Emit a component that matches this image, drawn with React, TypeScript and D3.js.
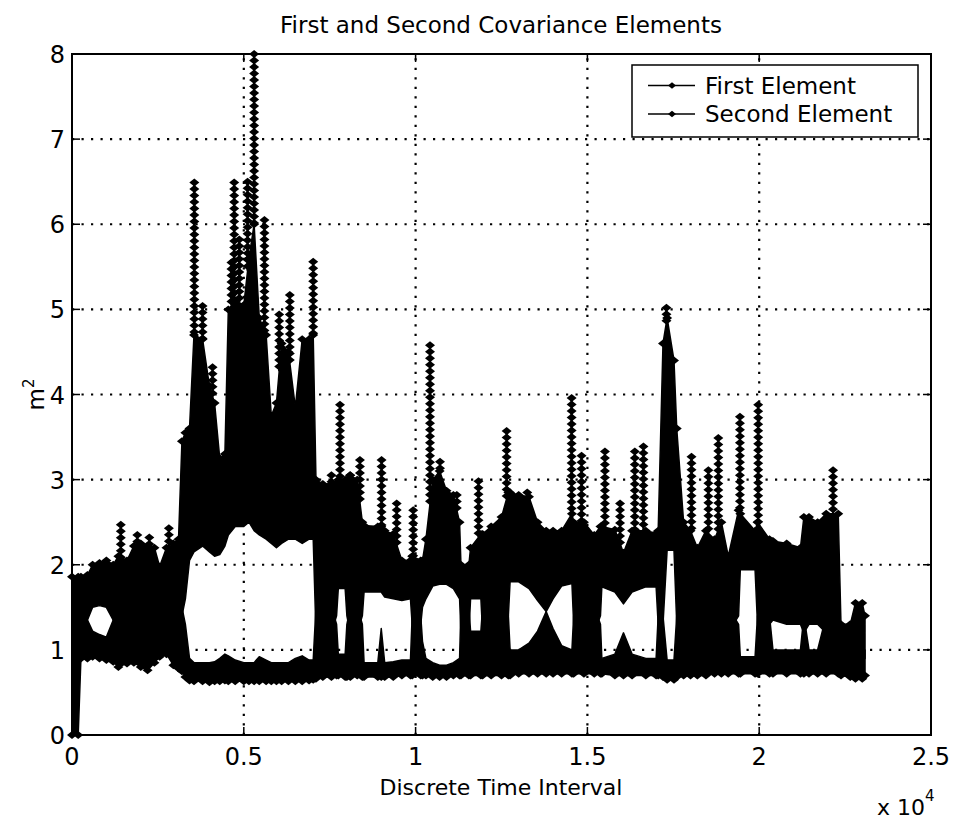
import React from 'react';
import * as d3 from 'd3';

// ---- data ----
const timeGrid = [0, 180, 260, 450, 600, 800, 1000, 1200, 1350, 1600, 1800, 2000, 2200, 2400, 2550, 2750, 2950, 3100, 3200, 3300, 3420, 3550, 3800, 4000, 4150, 4300, 4450, 4550, 4750, 5000, 5150, 5300, 5450, 5650, 5800, 5950, 6100, 6300, 6500, 6700, 6900, 7020, 7100, 7300, 7550, 7700, 7750, 7950, 8000, 8100, 8300, 8450, 8500, 8900, 9000, 9100, 9350, 9600, 9850, 9900, 10150, 10200, 10300, 10500, 10700, 10900, 11100, 11280, 11320, 11550, 11600, 11900, 11950, 12200, 12500, 12700, 12750, 13000, 13300, 13550, 13800, 14000, 14250, 14550, 14600, 14900, 15200, 15380, 15420, 15800, 16050, 16300, 16700, 17000, 17060, 17200, 17320, 17520, 17600, 17800, 18000, 18200, 18450, 18700, 18900, 19100, 19400, 19450, 19880, 19950, 20300, 20400, 20800, 21200, 21300, 21450, 21700, 21950, 22300, 22380, 22650, 22800, 23000, 23080];

const firstUpper = [1.86, 1.86, 1.86, 1.88, 2.0, 2.02, 2.05, 2.0, 2.1, 2.05, 2.22, 2.25, 2.22, 2.2, 1.98, 2.2, 2.25, 2.3, 3.45, 3.55, 3.6, 4.7, 4.65, 4.1, 3.9, 3.25, 3.3, 5.0, 5.1, 5.05, 5.6, 6.0, 4.9, 4.7, 3.75, 3.9, 4.6, 4.5, 3.85, 4.65, 4.65, 4.7, 3.0, 2.95, 2.95, 2.95, 3.0, 3.0, 3.0, 3.05, 3.0, 2.5, 2.46, 2.45, 2.45, 2.4, 2.36, 2.05, 2.05, 2.1, 2.05, 2.05, 2.3, 3.0, 3.1, 2.87, 2.82, 2.5, 2.0, 2.0, 2.2, 2.36, 2.36, 2.45, 2.56, 2.85, 2.85, 2.82, 2.8, 2.5, 2.4, 2.4, 2.4, 2.6, 2.5, 2.5, 2.35, 2.45, 2.45, 2.41, 2.14, 2.4, 2.4, 2.37, 2.4, 4.6, 4.9, 4.4, 3.6, 2.5, 2.4, 2.2, 2.4, 2.3, 2.5, 2.1, 2.64, 2.6, 2.4, 2.5, 2.3, 2.28, 2.25, 2.2, 2.56, 2.56, 2.5, 2.6, 2.6, 1.3, 1.3, 1.55, 1.55, 1.4];

const firstLower = [1.2, 1.2, 1.2, 1.35, 1.5, 1.52, 1.5, 1.35, 1.2, 1.2, 1.2, 1.2, 1.2, 1.2, 1.2, 1.2, 1.2, 1.2, 1.4, 1.6, 2.05, 2.15, 2.22, 2.15, 2.1, 2.12, 2.22, 2.35, 2.45, 2.45, 2.5, 2.4, 2.35, 2.3, 2.25, 2.2, 2.25, 2.3, 2.3, 2.25, 2.3, 2.3, 1.2, 1.2, 1.2, 1.4, 1.72, 1.72, 1.4, 1.2, 1.2, 1.4, 1.68, 1.68, 1.68, 1.62, 1.6, 1.58, 1.6, 1.3, 1.3, 1.5, 1.6, 1.75, 1.77, 1.77, 1.72, 1.6, 1.2, 1.2, 1.6, 1.6, 1.2, 1.2, 1.2, 1.4, 1.8, 1.8, 1.72, 1.58, 1.45, 1.6, 1.75, 1.78, 1.3, 1.2, 1.2, 1.4, 1.74, 1.68, 1.54, 1.68, 1.74, 1.74, 1.3, 1.3, 2.17, 2.17, 1.3, 1.2, 1.2, 1.2, 1.2, 1.2, 1.2, 1.2, 1.4, 1.94, 1.94, 1.3, 1.3, 1.35, 1.3, 1.3, 1.2, 1.3, 1.3, 1.2, 1.2, 0.9, 0.9, 0.9, 0.9, 0.9];

const secondUpper = [1.5, 1.5, 1.5, 1.35, 1.22, 1.18, 1.15, 1.35, 1.5, 1.5, 1.5, 1.5, 1.5, 1.5, 1.5, 1.5, 1.5, 1.5, 1.5, 1.3, 0.9, 0.85, 0.85, 0.85, 0.86, 0.9, 0.95, 0.93, 0.88, 0.85, 0.85, 0.85, 0.92, 0.88, 0.85, 0.85, 0.85, 0.85, 0.9, 0.93, 0.88, 0.88, 1.5, 1.5, 1.5, 1.3, 0.95, 0.95, 1.3, 1.5, 1.5, 1.3, 0.85, 0.85, 1.25, 0.85, 0.86, 0.88, 0.88, 1.4, 1.4, 1.1, 0.9, 0.85, 0.82, 0.82, 0.85, 0.9, 1.5, 1.5, 1.22, 1.22, 1.5, 1.5, 1.5, 1.4, 1.0, 1.0, 1.08, 1.22, 1.45, 1.25, 1.05, 1.0, 1.4, 1.5, 1.5, 1.3, 0.9, 0.95, 1.2, 0.95, 0.9, 0.9, 1.4, 1.4, 0.88, 0.88, 1.4, 1.5, 1.5, 1.5, 1.5, 1.5, 1.5, 1.5, 1.3, 0.92, 0.92, 1.4, 1.4, 1.0, 1.0, 1.0, 1.4, 1.0, 1.0, 1.4, 1.4, 1.0, 1.0, 1.0, 1.0, 1.0];

const secondLower = [0.0, 0.0, 0.9, 0.9, 0.92, 0.9, 0.88, 0.86, 0.8, 0.84, 0.85, 0.8, 0.76, 0.85, 0.92, 0.95, 0.82, 0.78, 0.75, 0.68, 0.64, 0.63, 0.63, 0.62, 0.63, 0.63, 0.64, 0.63, 0.63, 0.63, 0.63, 0.63, 0.63, 0.63, 0.63, 0.63, 0.63, 0.63, 0.63, 0.63, 0.64, 0.65, 0.66, 0.68, 0.68, 0.7, 0.7, 0.68, 0.68, 0.68, 0.7, 0.68, 0.68, 0.68, 0.68, 0.68, 0.68, 0.7, 0.7, 0.7, 0.7, 0.7, 0.7, 0.68, 0.68, 0.68, 0.7, 0.7, 0.7, 0.7, 0.7, 0.7, 0.7, 0.7, 0.7, 0.7, 0.7, 0.72, 0.72, 0.72, 0.72, 0.72, 0.72, 0.72, 0.72, 0.72, 0.72, 0.72, 0.72, 0.7, 0.7, 0.7, 0.7, 0.7, 0.7, 0.68, 0.65, 0.65, 0.68, 0.7, 0.7, 0.7, 0.7, 0.72, 0.72, 0.72, 0.72, 0.72, 0.72, 0.72, 0.72, 0.72, 0.72, 0.72, 0.72, 0.72, 0.72, 0.72, 0.72, 0.7, 0.68, 0.66, 0.66, 0.7];

const spikeTimes = [1420, 1900, 2250, 2820, 3560, 3800, 4090, 4640, 4720, 4870, 5110, 5300, 5600, 6030, 6340, 7020, 7550, 7800, 8090, 8380, 9010, 9450, 9930, 10420, 10710, 11200, 11830, 12650, 13250, 14540, 14830, 15510, 15950, 16380, 16630, 17300, 18030, 18520, 18810, 19440, 19970, 22150];
const spikePeaks = [2.47, 2.35, 2.32, 2.43, 6.49, 5.04, 4.32, 5.55, 6.49, 5.82, 6.5, 8.0, 6.05, 4.94, 5.17, 5.56, 3.05, 3.88, 3.05, 3.23, 3.23, 2.72, 2.64, 4.58, 3.21, 2.82, 2.98, 3.57, 2.85, 3.96, 3.28, 3.33, 2.72, 3.33, 3.39, 5.02, 3.27, 3.11, 3.49, 3.74, 3.88, 3.11];

const xTickValues = [0, 5000, 10000, 15000, 20000, 25000];
const xTickLabels = ['0', '0.5', '1', '1.5', '2', '2.5'];
const yTickValues = [0, 1, 2, 3, 4, 5, 6, 7, 8];
const seriesNames = ['First Element', 'Second Element'];

const FONT = '"DejaVu Sans", Arial, sans-serif';

export default function App() {
  const W = 953, H = 823;
  const L = 72, R = 931, T = 54, B = 735;
  const x = d3.scaleLinear().domain([0, 25000]).range([L, R]);
  const y = d3.scaleLinear().domain([0, 8]).range([B, T]);
  const upperAt = d3.scaleLinear().domain(timeGrid).range(firstUpper);

  const idx = timeGrid.map((_, i) => i);
  const firstArea = d3.area<number>()
    .x(i => x(timeGrid[i]))
    .y0(i => y(firstLower[i]))
    .y1(i => y(firstUpper[i]))(idx) || '';
  const secondArea = d3.area<number>()
    .x(i => x(timeGrid[i]))
    .y0(i => y(secondLower[i]))
    .y1(i => y(secondUpper[i]))(idx) || '';

  const diamond = 'M0,-4L5,0L0,4L-5,0Z';

  const spikes = spikeTimes.map((t, i) => {
    const base = upperAt(t);
    const peak = spikePeaks[i];
    const x0 = x(t);
    const yTop = y(peak);
    const yBase = y(Math.min(base, peak));
    const marks: number[] = [];
    for (let yy = yTop; yy < yBase; yy += 6.5) marks.push(yy);
    return { x0, yTop, yBase, marks };
  });

  return (
    <div style={{ position: 'absolute', left: 0, top: 0 }}>
      <style>{'body{margin:0;}'}</style>
      <svg width={W} height={H} viewBox={`0 0 ${W} ${H}`} style={{ display: 'block', background: '#fff' }}>
        <rect x={0} y={0} width={W} height={H} fill="#fff" />
        {/* grid */}
        <g stroke="#000" strokeWidth={2.2} strokeDasharray="2.2 7.3" fill="none">
          {xTickValues.slice(1, -1).map(v => (
            <line key={'gx' + v} x1={x(v)} x2={x(v)} y1={B} y2={T} />
          ))}
          {yTickValues.slice(1, -1).map(v => (
            <line key={'gy' + v} x1={L} x2={R} y1={y(v)} y2={y(v)} />
          ))}
        </g>
        {/* data */}
        <g>
          <path d={secondArea} fill="#000" stroke="#000" strokeWidth={1.5} strokeLinejoin="round" />
          <path d={firstArea} fill="#000" stroke="#000" strokeWidth={1.5} strokeLinejoin="round" />
          {timeGrid.map((t, i) => (
            <g key={'em' + i}>
              <path d={diamond} transform={`translate(${x(t)},${y(firstUpper[i])})`} fill="#000" />
              <path d={diamond} transform={`translate(${x(t)},${y(secondLower[i])})`} fill="#000" />
            </g>
          ))}
          {spikes.map((s, i) => (
            <g key={'sp' + i}>
              <line x1={s.x0} x2={s.x0} y1={s.yTop} y2={s.yBase} stroke="#000" strokeWidth={2.2} />
              {s.marks.map((yy, j) => (
                <path key={j} d={diamond} transform={`translate(${s.x0},${yy})`} fill="#000" />
              ))}
            </g>
          ))}
        </g>
        {/* frame */}
        <rect x={L} y={T} width={R - L} height={B - T} fill="none" stroke="#000" strokeWidth={2} />
        {/* ticks */}
        <g stroke="#000" strokeWidth={1.5}>
          {xTickValues.map(v => (
            <g key={'tx' + v}>
              <line x1={x(v)} x2={x(v)} y1={B} y2={B - 8} />
              <line x1={x(v)} x2={x(v)} y1={T} y2={T + 8} />
            </g>
          ))}
          {yTickValues.map(v => (
            <g key={'ty' + v}>
              <line x1={L} x2={L + 8} y1={y(v)} y2={y(v)} />
              <line x1={R} x2={R - 8} y1={y(v)} y2={y(v)} />
            </g>
          ))}
        </g>
        {/* tick labels */}
        <g fontFamily={FONT} fontSize={24} fill="#000">
          {xTickValues.map((v, i) => (
            <text key={'lx' + v} x={x(v)} y={765} textAnchor="middle">{xTickLabels[i]}</text>
          ))}
          {yTickValues.map(v => (
            <text key={'ly' + v} x={65} y={y(v) + 9} textAnchor="end">{String(v)}</text>
          ))}
        </g>
        {/* title & labels */}
        <text x={501} y={33} textAnchor="middle" fontFamily={FONT} fontSize={23} fill="#000">
          First and Second Covariance Elements
        </text>
        <text x={501} y={795} textAnchor="middle" fontFamily={FONT} fontSize={22} fill="#000">
          Discrete Time Interval
        </text>
        <text x={877} y={815} fontFamily={FONT} fontSize={22} fill="#000">
          x 10<tspan dy={-14} fontSize={15}>4</tspan>
        </text>
        <text transform={`translate(44,${y(4)}) rotate(-90)`} textAnchor="middle" fontFamily={FONT} fontSize={23} fill="#000">
          m<tspan dy={-10} fontSize={15}>2</tspan>
        </text>
        {/* legend */}
        <g>
          <rect x={632} y={65} width={286} height={72} fill="#fff" stroke="#000" strokeWidth={1.5} />
          {seriesNames.map((name, i) => {
            const ly = 85.5 + i * 28.5;
            return (
              <g key={name}>
                <line x1={648} x2={695} y1={ly} y2={ly} stroke="#000" strokeWidth={1.6} />
                <path d={diamond} transform={`translate(672,${ly}) scale(0.8)`} fill="#000" />
                <text x={705} y={ly + 8} fontFamily={FONT} fontSize={23} fill="#000">{name}</text>
              </g>
            );
          })}
        </g>
      </svg>
    </div>
  );
}
